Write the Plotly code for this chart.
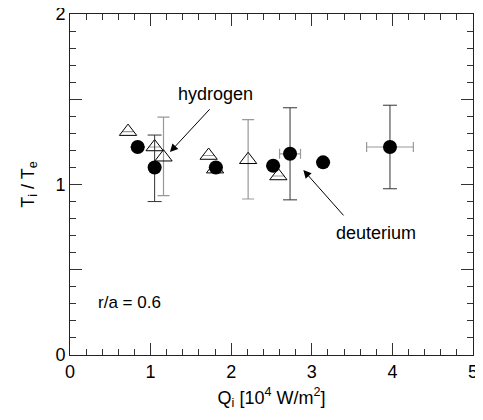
import plotly.graph_objects as go

# Deuterium (filled circles)
d_q = [0.84, 1.05, 1.81, 2.52, 2.73, 3.14, 3.97]
d_ratio = [1.22, 1.10, 1.10, 1.11, 1.18, 1.13, 1.22]
d_err_up = [0, 0.19, 0, 0, 0.27, 0, 0.245]
d_err_dn = [0, 0.20, 0, 0, 0.27, 0, 0.245]
d_xerr = [0, 0, 0, 0, 0.13, 0, 0.29]

# Hydrogen (open triangles)
h_q = [0.72, 1.05, 1.16, 1.72, 1.80, 2.21, 2.585]
h_ratio = [1.31, 1.22, 1.16, 1.17, 1.09, 1.145, 1.05]
h_err_up = [0, 0, 0.235, 0, 0, 0.235, 0]
h_err_dn = [0, 0, 0.225, 0, 0, 0.23, 0]

# Axis ticks
x_ticks = [0, 1, 2, 3, 4, 5]
y_ticks = [0, 1, 2]

FONT = "Liberation Sans, Arial, sans-serif"
TICKC = "#333333"

fig = go.Figure()

fig.add_trace(go.Scatter(
    x=h_q, y=h_ratio, mode="markers",
    marker=dict(symbol="triangle-up-open", size=15, color="black",
                line=dict(width=1, color="black")),
    error_y=dict(type="data", array=h_err_up, arrayminus=h_err_dn,
                 color="#999999", thickness=1.2, width=6, symmetric=False),
    showlegend=False,
))

fig.add_trace(go.Scatter(
    x=d_q, y=d_ratio, mode="markers",
    marker=dict(symbol="circle", size=14, color="black"),
    error_y=dict(type="data", array=d_err_up, arrayminus=d_err_dn,
                 color="#333333", thickness=1, width=7, symmetric=False),
    error_x=dict(type="data", array=d_xerr, color="#999999",
                 thickness=1.2, width=5),
    showlegend=False,
))

# invisible traces so the overlay tick axes are drawn
fig.add_trace(go.Scatter(x=[None], y=[None], xaxis="x2", yaxis="y2",
                         showlegend=False, hoverinfo="skip"))
fig.add_trace(go.Scatter(x=[None], y=[None], xaxis="x2", yaxis="y3",
                         showlegend=False, hoverinfo="skip"))

# Labels and arrows
fig.add_annotation(x=1.8, y=1.53, text="hydrogen", showarrow=False,
                   xref="x", yref="y", font=dict(size=18, family=FONT, color="black"))
fig.add_annotation(x=1.24, y=1.19, ax=1.75, ay=1.45, axref="x", ayref="y",
                   xref="x", yref="y", text="", showarrow=True,
                   arrowhead=2, arrowsize=1.6, arrowwidth=1, arrowcolor="black")
fig.add_annotation(x=3.8, y=0.715, text="deuterium", showarrow=False,
                   xref="x", yref="y", font=dict(size=18, family=FONT, color="black"))
fig.add_annotation(x=2.895, y=1.085, ax=3.41, ay=0.81, axref="x", ayref="y",
                   xref="x", yref="y", text="", showarrow=True,
                   arrowhead=2, arrowsize=1.6, arrowwidth=1, arrowcolor="black")
fig.add_annotation(x=0.32, y=0.31, text="r/a = 0.6", showarrow=False,
                   xanchor="left", xref="x", yref="y",
                   font=dict(size=17, family=FONT, color="black"))

tick_overlay = dict(ticks="inside", tickwidth=1, tickcolor=TICKC, mirror="ticks",
                    showline=False, showticklabels=False, showgrid=False,
                    zeroline=False, automargin=False)

# page body adds an 8px margin, so the figure is 8px smaller and margins shifted
fig.update_layout(
    width=475, height=412,
    margin=dict(l=62, r=10, t=6, b=65),
    plot_bgcolor="white", paper_bgcolor="white",
    font=dict(family=FONT, color="black"),
    xaxis=dict(
        range=[0, 5], tickvals=x_ticks, ticklen=12, tickwidth=1,
        ticks="inside", tickcolor=TICKC, mirror="ticks",
        showline=True, linecolor="#222222", linewidth=1,
        showgrid=False, zeroline=False, automargin=False,
        ticklabeloverflow="allow",
        tickfont=dict(size=18, family=FONT, color="black"),
        title=dict(text="Q<sub>i</sub> [10<sup>4</sup> W/m<sup>2</sup>]",
                   font=dict(size=18, family=FONT, color="black"), standoff=10),
    ),
    yaxis=dict(
        range=[0, 2], tickvals=y_ticks, ticklen=12, tickwidth=1,
        ticks="inside", tickcolor=TICKC, mirror="ticks",
        showline=True, linecolor="#222222", linewidth=1,
        showgrid=False, zeroline=False, automargin=False,
        ticklabeloverflow="allow",
        tickfont=dict(size=18, family=FONT, color="black"),
        title=dict(text="T<sub>i</sub> / T<sub>e</sub>",
                   font=dict(size=18, family=FONT, color="black"), standoff=16),
    ),
    xaxis2=dict(range=[0, 5], overlaying="x", side="bottom", dtick=0.2, tick0=0,
                ticklen=6, **tick_overlay),
    yaxis2=dict(range=[0, 2], overlaying="y", side="left", dtick=0.1, tick0=0,
                ticklen=6, **tick_overlay),
    yaxis3=dict(range=[0, 2], overlaying="y", side="left", dtick=0.5, tick0=0,
                ticklen=12, **tick_overlay),
)

fig.write_html("out.html")
